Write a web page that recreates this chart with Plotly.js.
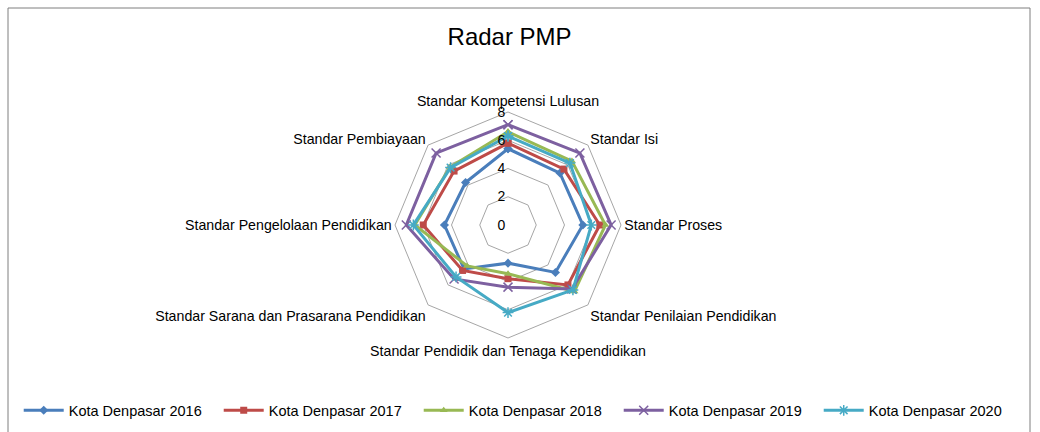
<!DOCTYPE html>
<html>
<head>
<meta charset="utf-8">
<script src="https://cdn.plot.ly/plotly-3.0.1.min.js"></script>
<style>html,body{margin:0;padding:0;background:#fff}#chart{width:1040px;height:432px}</style>
</head>
<body>
<div id="chart"></div>
<script>
const categories = [
  "Standar Kompetensi Lulusan",
  "Standar Isi",
  "Standar Proses",
  "Standar Penilaian Pendidikan",
  "Standar Pendidik dan Tenaga Kependidikan",
  "Standar Sarana dan Prasarana Pendidikan",
  "Standar Pengelolaan Pendidikan",
  "Standar Pembiayaan"
];
const seriesNames = ["Kota Denpasar 2016","Kota Denpasar 2017","Kota Denpasar 2018","Kota Denpasar 2019","Kota Denpasar 2020"];
const v2016 = [5.4, 5.2, 5.3, 4.75, 2.7, 4.4, 4.5, 4.25];
const v2017 = [5.8, 5.6, 6.5, 6.0, 3.8, 4.55, 6.0, 5.4];
const v2018 = [6.6, 6.4, 6.9, 6.65, 3.45, 4.1, 6.6, 5.8];
const v2019 = [7.1, 7.2, 7.3, 6.4, 4.4, 5.4, 7.2, 7.2];
const v2020 = [6.3, 6.2, 5.9, 6.5, 6.2, 5.2, 6.7, 5.75];
const radialTicks = [0, 2, 4, 6, 8];

const colors = ["#4A7EBB", "#BE4B48", "#98B954", "#7D60A0", "#46AAC5"];
const symbols = ["diamond", "square", "triangle-up", "x-thin-open", "asterisk-open"];
const allValues = [v2016, v2017, v2018, v2019, v2020];

const traces = allValues.map((vals, i) => ({
  type: "scatterpolar",
  mode: "lines+markers",
  name: seriesNames[i],
  r: vals.concat([vals[0]]),
  theta: categories.concat([categories[0]]),
  line: {color: colors[i], width: 3},
  marker: {symbol: symbols[i], size: i >= 3 ? 9 : 7, color: colors[i],
           line: {color: colors[i], width: i >= 3 ? 1.5 : 0}},
  cliponaxis: false
}));

const cx = 508, cy = 225, R = 113;
const layout = {
  width: 1040, height: 432,
  margin: {l: 0, r: 0, t: 0, b: 0},
  paper_bgcolor: "#fff",
  font: {family: "Liberation Sans, Arial, sans-serif", size: 12, color: "#000"},
  title: {text: "Radar PMP", x: 0.49, xanchor: "center", y: 0.915, yanchor: "middle",
          font: {size: 24, color: "#000", family: "Liberation Sans, Arial, sans-serif"}},
  showlegend: true,
  legend: {orientation: "h", x: 0.018, xanchor: "left", y: 0.05, yanchor: "middle",
           entrywidth: 145, entrywidthmode: "pixels", font: {size: 14.5}, itemwidth: 40,
           bgcolor: "rgba(0,0,0,0)"},
  polar: {
    domain: {x: [(cx - R) / 1040, (cx + R) / 1040], y: [(432 - cy - R) / 432, (432 - cy + R) / 432]},
    gridshape: "linear",
    bgcolor: "rgba(0,0,0,0)",
    radialaxis: {range: [0, 8], tickvals: radialTicks, ticktext: radialTicks.map(String),
                 angle: 90, tickangle: 90, side: "counterclockwise", showline: false,
                 gridcolor: "#A6A6A6", gridwidth: 1, ticks: "", tickfont: {size: 14}},
    angularaxis: {direction: "clockwise", rotation: 90, showgrid: false,
                  showline: true, linecolor: "#A6A6A6", linewidth: 1, ticks: "",
                  tickfont: {size: 14.2}}
  },
  shapes: [
    {type: "line", xref: "paper", yref: "paper", x0: 8/1040, x1: 8/1040, y0: 0, y1: 1 - 8/432, line: {color: "#7F7F7F", width: 1}},
    {type: "line", xref: "paper", yref: "paper", x0: 8/1040, x1: 1030/1040, y0: 1 - 8/432, y1: 1 - 8/432, line: {color: "#7F7F7F", width: 1}},
    {type: "line", xref: "paper", yref: "paper", x0: 1030/1040, x1: 1030/1040, y0: 0, y1: 1 - 8/432, line: {color: "#7F7F7F", width: 1}}
  ]
};
Plotly.newPlot("chart", traces, layout, {staticPlot: true, displayModeBar: false});
</script>
</body>
</html>
